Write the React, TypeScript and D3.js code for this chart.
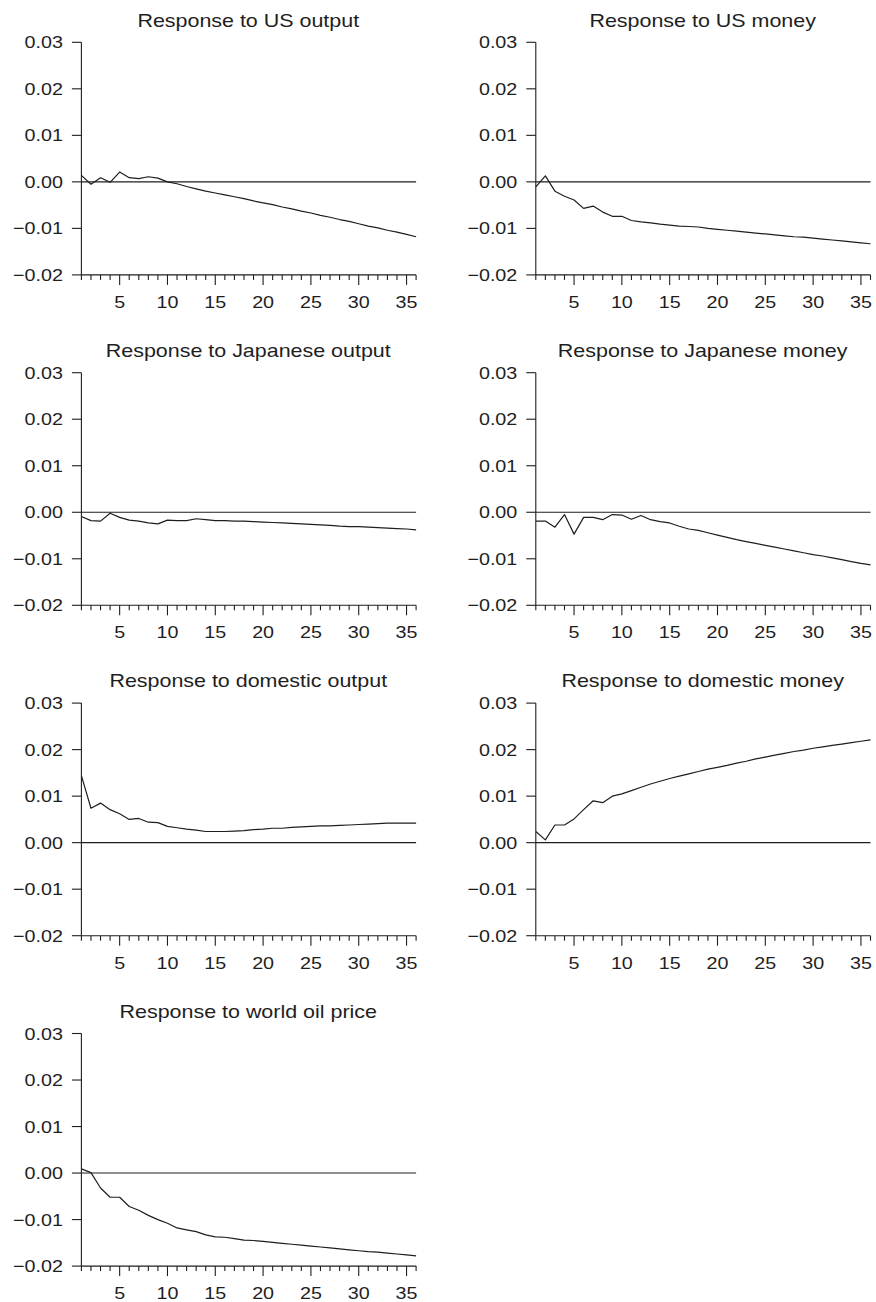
import React from "react";
import * as d3 from "d3";

const periods: number[] = Array.from({ length: 36 }, (_, i) => i + 1);

const titles: string[] = [
  "Response to US output",
  "Response to US money",
  "Response to Japanese output",
  "Response to Japanese money",
  "Response to domestic output",
  "Response to domestic money",
  "Response to world oil price",
];

const usOutput: number[] = [
  0.0014, -0.0005, 0.0009, -0.0001, 0.0021, 0.0009, 0.0007, 0.0011, 0.0008, 0.0,
  -0.0004, -0.001, -0.0015, -0.002, -0.0024, -0.0028, -0.0032, -0.0036, -0.0041, -0.0045,
  -0.0049, -0.0054, -0.0058, -0.0063, -0.0067, -0.0072, -0.0076, -0.0081, -0.0085, -0.009,
  -0.0095, -0.0099, -0.0104, -0.0108, -0.0113, -0.0118,
];

const usMoney: number[] = [
  -0.0011, 0.0013, -0.002, -0.0031, -0.0039, -0.0057, -0.0052, -0.0065, -0.0074, -0.0074,
  -0.0083, -0.0086, -0.0088, -0.0091, -0.0093, -0.0095, -0.0096, -0.0097, -0.01, -0.0102,
  -0.0104, -0.0106, -0.0108, -0.011, -0.0112, -0.0114, -0.0116, -0.0118, -0.0119, -0.0121,
  -0.0123, -0.0125, -0.0127, -0.0129, -0.0131, -0.0133,
];

const japanOutput: number[] = [
  -0.0009, -0.0018, -0.0019, -0.0002, -0.0011, -0.0017, -0.0019, -0.0023, -0.0025, -0.0017,
  -0.0018, -0.0018, -0.0014, -0.0016, -0.0018, -0.0018, -0.0019, -0.0019, -0.002, -0.0021,
  -0.0022, -0.0023, -0.0024, -0.0025, -0.0026, -0.0027, -0.0028, -0.003, -0.0031, -0.0031,
  -0.0032, -0.0033, -0.0034, -0.0035, -0.0036, -0.0038,
];

const japanMoney: number[] = [
  -0.0019, -0.0019, -0.0032, -0.0005, -0.0047, -0.0011, -0.0011, -0.0016, -0.0005, -0.0006,
  -0.0015, -0.0007, -0.0016, -0.002, -0.0023, -0.003, -0.0036, -0.0039, -0.0044, -0.0049,
  -0.0054, -0.0059, -0.0063, -0.0067, -0.0071, -0.0075, -0.0079, -0.0083, -0.0087, -0.0091,
  -0.0094, -0.0098, -0.0102, -0.0106, -0.011, -0.0113,
];

const domesticOutput: number[] = [
  0.0144, 0.0074, 0.0085, 0.0071, 0.0062, 0.005, 0.0052, 0.0044, 0.0043, 0.0035,
  0.0032, 0.0029, 0.0027, 0.0024, 0.0024, 0.0024, 0.0025, 0.0026, 0.0028, 0.0029,
  0.0031, 0.0031, 0.0033, 0.0034, 0.0035, 0.0036, 0.0036, 0.0037, 0.0038, 0.0039,
  0.004, 0.0041, 0.0042, 0.0042, 0.0042, 0.0042,
];

const domesticMoney: number[] = [
  0.0024, 0.0006, 0.0038, 0.0038, 0.0051, 0.0071, 0.009, 0.0086, 0.01, 0.0105,
  0.0112, 0.0119, 0.0126, 0.0132, 0.0138, 0.0143, 0.0148, 0.0153, 0.0158, 0.0162,
  0.0166, 0.0171, 0.0175, 0.018, 0.0184, 0.0188, 0.0192, 0.0196, 0.0199, 0.0203,
  0.0206, 0.0209, 0.0212, 0.0215, 0.0218, 0.0221,
];

const oilPrice: number[] = [
  0.0009, 0.0001, -0.0032, -0.0052, -0.0052, -0.0072, -0.008, -0.0091, -0.01, -0.0108,
  -0.0118, -0.0122, -0.0126, -0.0133, -0.0137, -0.0138, -0.0141, -0.0144, -0.0145, -0.0147,
  -0.0149, -0.0151, -0.0153, -0.0155, -0.0157, -0.0159, -0.0161, -0.0163, -0.0165, -0.0167,
  -0.0169, -0.017, -0.0172, -0.0174, -0.0176, -0.0178,
];

const seriesList: number[][] = [
  usOutput,
  usMoney,
  japanOutput,
  japanMoney,
  domesticOutput,
  domesticMoney,
  oilPrice,
];

const yTicks: number[] = [0.03, 0.02, 0.01, 0, -0.01, -0.02];
const xLabelTicks: number[] = [5, 10, 15, 20, 25, 30, 35];

const W = 876;
const H = 1302;
const colLeft = [81.4, 535.8];
const plotW = 334.7;
const rowTop0 = 42.3;
const rowPitch = 330.4;
const plotH = 232.6;
const ink = "#1e1e1e";
const font = "'Liberation Sans', Arial, Helvetica, sans-serif";
const sx = 1.16;

const fmt = (v: number) => d3.format(".2f")(v).replace("-", "\u2212");

function Panel({ title, values, left, top }: { title: string; values: number[]; left: number; top: number }) {
  const x = d3.scaleLinear().domain([1, 36]).range([0, plotW]);
  const y = d3.scaleLinear().domain([-0.02, 0.03]).range([plotH, 0]);
  const line = d3
    .line<number>()
    .x((_, i) => x(periods[i]))
    .y((d) => y(d));
  return (
    <g transform={`translate(${left},${top})`}>
      <text
        transform={`translate(${plotW / 2 - 0.5},${-15.8}) scale(${sx},1)`}
        textAnchor="middle"
        fontSize={18.5}
        fontFamily={font}
        fill={ink}
      >
        {title}
      </text>
      <line x1={0} x2={0} y1={y(0.03)} y2={y(-0.02)} stroke={ink} strokeWidth={1.1} />
      {yTicks.map((t) => (
        <g key={t}>
          <line x1={-9.5} x2={0} y1={y(t)} y2={y(t)} stroke={ink} strokeWidth={1.1} />
          <text
            transform={`translate(${-18.5},${y(t) + 6}) scale(${sx},1)`}
            textAnchor="end"
            fontSize={17}
            fontFamily={font}
            fill={ink}
          >
            {fmt(t)}
          </text>
        </g>
      ))}
      <line x1={0} x2={plotW} y1={plotH} y2={plotH} stroke={ink} strokeWidth={1.1} />
      {periods.map((p) => {
        const major = p % 5 === 0;
        return (
          <line
            key={p}
            x1={x(p)}
            x2={x(p)}
            y1={plotH}
            y2={plotH + (major ? 10 : 5)}
            stroke={ink}
            strokeWidth={1.1}
          />
        );
      })}
      {xLabelTicks.map((t) => (
        <text
          key={t}
          transform={`translate(${x(t)},${plotH + 33}) scale(${sx},1)`}
          textAnchor="middle"
          fontSize={17}
          fontFamily={font}
          fill={ink}
        >
          {t}
        </text>
      ))}
      <line x1={0} x2={plotW} y1={y(0)} y2={y(0)} stroke={ink} strokeWidth={1.1} />
      <path d={line(values) || ""} fill="none" stroke={ink} strokeWidth={1.2} strokeLinejoin="round" />
    </g>
  );
}

export default function App() {
  return (
    <svg
      width={W}
      height={H}
      viewBox={`0 0 ${W} ${H}`}
      style={{ position: "absolute", left: 0, top: 0, background: "#fff" }}
    >
      <rect x={0} y={0} width={W} height={H} fill="#fff" />
      {seriesList.map((vals, i) => (
        <Panel
          key={titles[i]}
          title={titles[i]}
          values={vals}
          left={colLeft[i % 2]}
          top={rowTop0 + Math.floor(i / 2) * rowPitch}
        />
      ))}
    </svg>
  );
}
